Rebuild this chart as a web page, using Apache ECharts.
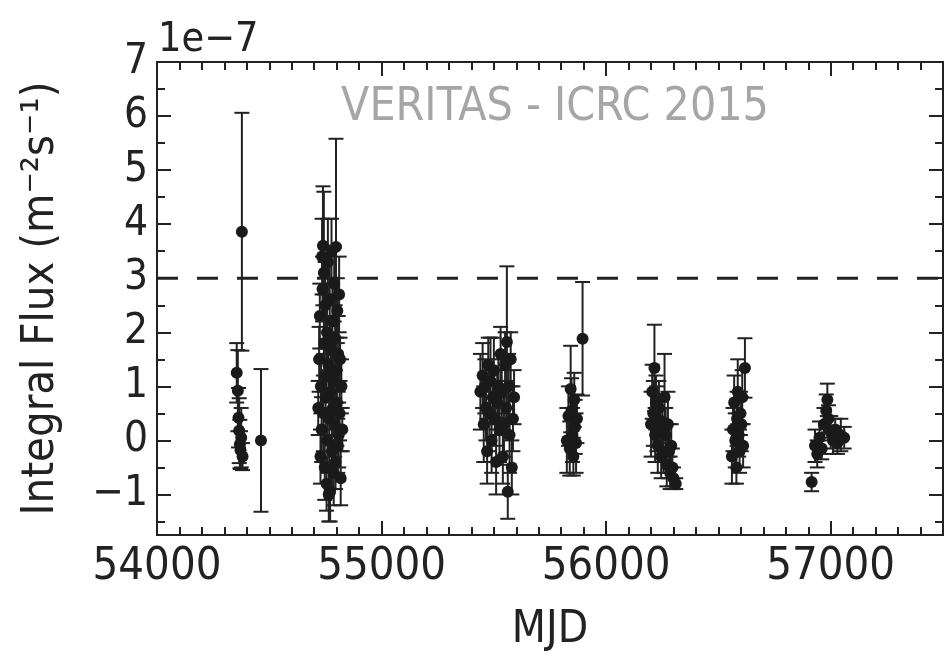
<!DOCTYPE html>
<html>
<head>
<meta charset="utf-8">
<script src="https://cdn.jsdelivr.net/npm/echarts@6/dist/echarts.min.js"></script>
<style>
html,body{margin:0;padding:0;background:#fff;}
#chart{width:944px;height:658px;}
</style>
</head>
<body>
<div id="chart"></div>
<script>
// Flux values in units of 1e-7 m^-2 s^-1
const mjd = [
  54355,54360,54363,54366,54369,54372,54375,54378,54381,54463,
  54718,54722,54725,54728,54730,54733,54735,54737,54739,54741,54743,54745,54747,54749,54751,54753,54755,54757,54759,54761,54763,54765,54767,54769,54771,54773,54775,54777,54779,54781,54783,54785,54787,54789,54791,54793,54795,54797,54799,54801,54803,54805,54807,54809,54811,54813,54815,54818,54821,54825,
  55440,55450,55455,55460,55465,55470,55475,55480,55485,55490,55495,55500,55505,55510,55515,55520,55525,55530,55535,55540,55545,55550,55555,55558,55562,55566,55570,55575,55580,55585,55590,
  55825,55832,55838,55842,55846,55850,55854,55858,55862,55866,55870,55895,
  56200,56205,56210,56215,56218,56222,56226,56230,56235,56240,56245,56250,56255,56260,56265,56270,56275,56280,56285,56290,56295,56300,56310,
  56560,56565,56570,56575,56580,56583,56586,56590,56594,56598,56602,56606,56610,56618,
  56915,56930,56940,56950,56960,56970,56980,56985,56990,57000,57010,57020,57030,57045,57060
];
const flux = [
  1.25,0.92,0.42,0.18,-0.07,-0.18,0.05,3.86,-0.30,0.00,
  0.6,1.5,2.3,-0.3,1.0,0.2,3.4,2.8,3.6,0.5,3.1,1.8,-0.5,2.5,0.8,1.2,-0.8,2.0,0.0,3.3,1.4,-1.0,0.4,2.6,-0.95,1.7,0.9,3.5,-0.2,2.2,0.6,1.1,-0.6,2.9,0.3,1.9,-0.4,3.58,1.3,0.7,2.4,-0.1,1.6,0.1,2.7,0.5,1.5,-0.7,1.0,0.2,
  0.9,1.2,0.3,1.0,0.6,-0.2,1.4,0.5,1.1,0.0,0.8,1.3,0.4,-0.4,0.7,1.0,0.2,1.6,0.9,-0.3,0.3,1.4,0.6,1.82,-0.95,1.0,0.1,1.5,-0.5,0.4,0.8,
  0.0,0.45,-0.15,0.95,0.55,0.1,-0.3,0.75,0.25,-0.05,0.4,1.88,
  0.3,0.9,0.5,1.34,0.1,0.7,0.4,-0.1,0.6,0.2,-0.3,0.35,-0.2,0.8,0.1,-0.45,0.3,-0.2,-0.6,-0.1,-0.5,-0.7,-0.8,
  -0.3,0.2,0.7,0.0,-0.5,0.4,0.9,0.1,-0.2,0.5,0.3,0.8,-0.1,1.34,
  -0.77,-0.1,-0.25,0.05,-0.15,0.3,0.55,0.75,0.4,0.15,0.0,0.2,-0.05,0.1,0.05
];
const fluxErr = [
  0.55,0.75,0.55,0.6,0.45,0.35,0.55,2.2,0.25,1.32,
  0.5,0.6,0.6,0.5,0.5,0.6,0.7,0.6,1.1,0.7,1.5,0.9,0.6,0.8,0.7,0.5,0.5,0.7,0.6,0.8,0.6,0.5,0.8,1.0,0.55,0.6,0.7,0.6,0.7,0.7,0.5,0.6,0.6,0.7,0.6,0.6,0.5,2.0,0.6,0.8,0.6,0.5,0.7,0.6,0.7,0.5,0.4,0.5,0.5,0.4,
  0.7,0.6,0.7,0.5,0.6,0.6,0.5,0.7,0.8,0.6,0.5,0.6,0.5,0.6,0.6,0.5,0.6,0.5,0.7,0.5,0.6,0.6,0.5,1.4,0.5,0.6,0.7,0.5,0.5,0.6,0.5,
  0.6,0.55,0.5,0.8,0.6,0.5,0.35,0.5,0.5,0.55,0.45,1.05,
  0.6,0.5,0.6,0.8,0.5,0.5,0.6,0.5,0.5,0.6,0.4,0.5,0.4,0.8,0.5,0.4,0.6,0.5,0.3,0.4,0.35,0.2,0.1,
  0.5,0.4,0.5,0.5,0.3,0.5,0.6,0.4,0.4,0.4,0.5,0.5,0.4,0.55,
  0.17,0.3,0.25,0.3,0.2,0.3,0.3,0.3,0.25,0.3,0.25,0.2,0.2,0.3,0.2
];
const thresholdFlux = 3;
const xMajorTicks = [54000,55000,56000,57000];
const xMinorTicks = [];
for (let v = 54100; v < 57500; v += 100) if (v % 1000 !== 0) xMinorTicks.push(v);
const yMajorTicks = [-1,0,1,2,3,4,5,6,7];
const yMinorTicks = [-1.5,-0.5,0.5,1.5,2.5,3.5,4.5,5.5,6.5];
const xRange = [54000, 57500];
const yRange = [-1.75, 7];

const FONT = 'DejaVu Sans Condensed';
const INK = '#222';
const points = mjd.map((m, i) => [m, flux[i], fluxErr[i]]);

function xAx(pos, ticks, len, showLine, showLabel) {
  return {
    type: 'value', position: pos, min: xRange[0], max: xRange[1],
    axisLine: {show: showLine, onZero: false, lineStyle: {color: INK, width: 2}},
    axisTick: {show: true, inside: true, length: len, customValues: ticks, lineStyle: {color: INK, width: 2}},
    axisLabel: {show: showLabel, customValues: ticks, fontFamily: FONT, fontSize: 45, color: INK, margin: 10,
      formatter: v => String(v)},
    splitLine: {show: false}
  };
}
function yAx(pos, ticks, len, showLine, showLabel) {
  return {
    type: 'value', position: pos, min: yRange[0], max: yRange[1],
    axisLine: {show: showLine, onZero: false, lineStyle: {color: INK, width: 2}},
    axisTick: {show: true, inside: true, length: len, customValues: ticks, lineStyle: {color: INK, width: 2}},
    axisLabel: {show: showLabel, customValues: ticks, fontFamily: FONT, fontSize: 42, color: INK, margin: 9,
      formatter: v => v < 0 ? '\u2212' + Math.abs(v) : String(v)},
    splitLine: {show: false}
  };
}

const xAxes = [
  xAx('bottom', xMajorTicks, 14, true, true),
  xAx('bottom', xMinorTicks, 8, false, false),
  xAx('top', xMajorTicks, 14, true, false),
  xAx('top', xMinorTicks, 8, false, false)
];
xAxes[0].name = 'MJD';
xAxes[0].nameLocation = 'middle';
xAxes[0].nameGap = 74;
xAxes[0].nameTextStyle = {fontFamily: FONT, fontSize: 44, color: INK};

const yAxes = [
  yAx('left', yMajorTicks, 14, true, true),
  yAx('left', yMinorTicks, 8, false, false),
  yAx('right', yMajorTicks, 14, true, false),
  yAx('right', yMinorTicks, 8, false, false)
];
yAxes[0].name = 'Integral Flux (m\u207B\u00B2s\u207B\u00B9)';
yAxes[0].nameLocation = 'middle';
yAxes[0].nameGap = 93;
yAxes[0].nameTextStyle = {fontFamily: FONT, fontSize: 45, color: INK};

const chart = echarts.init(document.getElementById('chart'), null, {renderer: 'canvas'});
chart.setOption({
  animation: false,
  backgroundColor: '#fff',
  grid: {left: 157, right: 1, top: 62, bottom: 120, containLabel: false},
  xAxis: xAxes,
  yAxis: yAxes,
  graphic: [
    {type: 'text', x: 158, y: 20, style: {text: '1e\u22127', font: '41px "DejaVu Sans Condensed"', fill: INK}},
    {type: 'text', x: 555, y: 85, style: {text: 'VERITAS - ICRC 2015', font: '46px "DejaVu Sans Condensed"', fill: '#a6a6a6', textAlign: 'center'}}
  ],
  series: [
    {
      type: 'custom', xAxisIndex: 0, yAxisIndex: 0, clip: true,
      data: [[thresholdFlux]],
      renderItem: function (params, api) {
        const y = api.value(0);
        const a = api.coord([xRange[0], y]);
        const b = api.coord([xRange[1], y]);
        return {type: 'line', shape: {x1: a[0], y1: a[1], x2: b[0], y2: b[1]},
          style: {stroke: INK, lineWidth: 3, lineDash: [21, 19], lineDashOffset: 0}};
      },
      silent: true,
      z: 1
    },
    {
      type: 'custom', xAxisIndex: 0, yAxisIndex: 0, clip: true,
      data: points,
      encode: {x: 0, y: 1},
      renderItem: function (params, api) {
        const x = api.value(0), y = api.value(1), e = api.value(2);
        const t = api.coord([x, y + e]);
        const b = api.coord([x, y - e]);
        const hw = 7.5;
        const st = {stroke: INK, lineWidth: 2};
        return {type: 'group', children: [
          {type: 'line', shape: {x1: t[0], y1: t[1], x2: b[0], y2: b[1]}, style: st},
          {type: 'line', shape: {x1: t[0] - hw, y1: t[1], x2: t[0] + hw, y2: t[1]}, style: st},
          {type: 'line', shape: {x1: b[0] - hw, y1: b[1], x2: b[0] + hw, y2: b[1]}, style: st}
        ]};
      },
      z: 2
    },
    {
      type: 'scatter', xAxisIndex: 0, yAxisIndex: 0,
      data: points.map(p => [p[0], p[1]]),
      symbol: 'circle', symbolSize: 12,
      itemStyle: {color: '#1a1a1a', opacity: 1},
      z: 3
    }
  ]
});
</script>
</body>
</html>
